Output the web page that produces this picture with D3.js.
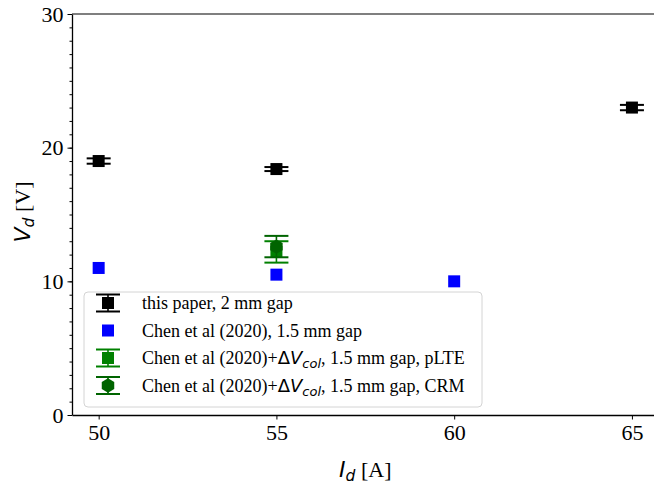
<!DOCTYPE html>
<html>
<head>
<meta charset="utf-8">
<script src="https://cdn.jsdelivr.net/npm/d3@7/dist/d3.min.js"></script>
<style>
  body { margin: 0; background: #fff; }
  svg { display: block; }
  .tick text { font-family: "Liberation Serif", "Times New Roman", serif; font-size: 22px; fill: #000; }
</style>
</head>
<body>
<svg id="graph" width="654" height="484"></svg>
<script>
(function() {
// values
const xTicks = [50, 55, 60, 65];
const yTicks = [0, 10, 20, 30];

const paperI = [50, 55, 65];
const paperV = [19.0, 18.4, 23.0];
const paperErr = [0.2, 0.15, 0.2];

const chenI = [50, 55, 60];
const chenV = [11.0, 10.5, 10.0];

const plteI = [55];
const plteV = [12.2];
const plteErr = [0.8];

const crmI = [55];
const crmV = [12.6];
const crmErr = [0.8];

const legendLabels = [
  'this paper, 2 mm gap',
  'Chen et al (2020), 1.5 mm gap',
  'Chen et al (2020)+', // pLTE (math part added below)
  'Chen et al (2020)+'  // CRM
];

const svg = d3.select('#graph');
const left = 72, top = 14, bottom = 415, right = 658.6;

const x = d3.scaleLinear().domain([49.25, 65.75]).range([left, right]);
const y = d3.scaleLinear().domain([0, 30]).range([bottom, top]);

// spines
svg.append('line')
  .attr('x1', left).attr('x2', 654).attr('y1', top).attr('y2', top)
  .attr('stroke', '#555').attr('stroke-width', 1.5);

// minor y ticks
svg.append('g')
  .attr('transform', `translate(${left},0)`)
  .call(d3.axisLeft(y).ticks(30).tickSize(2.5).tickFormat(''))
  .call(g => g.select('.domain').remove())
  .selectAll('line').attr('stroke', '#000').attr('stroke-width', 1);

const yAxis = svg.append('g')
  .attr('transform', `translate(${left},0)`)
  .call(d3.axisLeft(y).tickValues(yTicks).tickSize(4.5).tickPadding(4).tickSizeOuter(0));
yAxis.select('.domain').attr('stroke', '#000').attr('stroke-width', 1.3);
yAxis.selectAll('.tick line').attr('stroke', '#000').attr('stroke-width', 1);

const xAxis = svg.append('g')
  .attr('transform', `translate(0,${bottom})`)
  .call(d3.axisBottom(x).tickValues(xTicks).tickSize(4.5).tickPadding(5).tickSizeOuter(0));
xAxis.select('.domain').attr('stroke', '#000').attr('stroke-width', 1.3);
xAxis.selectAll('.tick line').attr('stroke', '#000').attr('stroke-width', 1);

// axis labels
const mathFont = '"DejaVu Sans", sans-serif';
const serif = '"Liberation Serif", "Times New Roman", serif';

const yl = svg.append('text')
  .attr('transform', 'translate(30,212) rotate(-90)')
  .attr('text-anchor', 'middle')
  .attr('font-size', 22);
yl.append('tspan').attr('font-family', mathFont).attr('font-style', 'italic').text('V');
yl.append('tspan').attr('font-family', mathFont).attr('font-style', 'italic')
  .attr('font-size', 15.5).attr('dy', 4).text('d');
yl.append('tspan').attr('font-family', serif).attr('dy', -4).text(' [V]');

const xl = svg.append('text')
  .attr('x', (left + right) / 2).attr('y', 477)
  .attr('text-anchor', 'middle')
  .attr('font-size', 22);
xl.append('tspan').attr('font-family', mathFont).attr('font-style', 'italic').text('I');
xl.append('tspan').attr('font-family', mathFont).attr('font-style', 'italic')
  .attr('font-size', 15.5).attr('dy', 4).text('d');
xl.append('tspan').attr('font-family', serif).attr('dy', -4).text(' [A]');

// helpers
function errorBars(g, cx, cy, lo, hi, color) {
  g.append('line').attr('x1', cx).attr('x2', cx).attr('y1', lo).attr('y2', hi)
    .attr('stroke', color).attr('stroke-width', 1.6);
  [lo, hi].forEach(v => {
    g.append('line').attr('x1', cx - 12).attr('x2', cx + 12).attr('y1', v).attr('y2', v)
      .attr('stroke', color).attr('stroke-width', 2);
  });
}
function square(g, cx, cy, color) {
  g.append('rect').attr('x', cx - 6).attr('y', cy - 6).attr('width', 12).attr('height', 12)
    .attr('fill', color);
}
function hexagon(g, cx, cy, color) {
  const r = 7.2;
  const pts = d3.range(6).map(k => {
    const a = Math.PI / 2 + k * Math.PI / 3;
    return [cx + r * Math.cos(a), cy - r * Math.sin(a)];
  });
  g.append('polygon').attr('points', pts.map(p => p.join(',')).join(' ')).attr('fill', color);
}

const marks = svg.append('g');

// this paper
paperI.forEach((d, i) => {
  errorBars(marks, x(d), y(paperV[i]), y(paperV[i] - paperErr[i]), y(paperV[i] + paperErr[i]), '#000');
  square(marks, x(d), y(paperV[i]), '#000');
});
// Chen
chenI.forEach((d, i) => square(marks, x(d), y(chenV[i]), '#0000ff'));
// pLTE
plteI.forEach((d, i) => {
  errorBars(marks, x(d), y(plteV[i]), y(plteV[i] - plteErr[i]), y(plteV[i] + plteErr[i]), '#008000');
  square(marks, x(d), y(plteV[i]), '#008000');
});
// CRM
crmI.forEach((d, i) => {
  errorBars(marks, x(d), y(crmV[i]), y(crmV[i] - crmErr[i]), y(crmV[i] + crmErr[i]), '#006400');
  hexagon(marks, x(d), y(crmV[i]), '#006400');
});

// legend
const lg = svg.append('g');
lg.append('rect')
  .attr('x', 84).attr('y', 292).attr('width', 398).attr('height', 115)
  .attr('rx', 4).attr('fill', 'rgba(255,255,255,0.85)')
  .attr('stroke', '#d4d4d4').attr('stroke-width', 1);

const rowY = [303, 330.5, 358, 385.5];
const colors = ['#000', '#0000ff', '#008000', '#006400'];
rowY.forEach((ry, i) => {
  const hx = 108;
  if (i !== 1) {
    errorBars(lg, hx, ry, ry + 8.5, ry - 8.5, colors[i]);
  }
  if (i === 3) hexagon(lg, hx, ry, colors[i]);
  else square(lg, hx, ry, colors[i]);

  const t = lg.append('text')
    .attr('x', 142).attr('y', ry + 6)
    .attr('font-family', serif).attr('font-size', 18).attr('fill', '#000');
  t.append('tspan').text(legendLabels[i]);
  if (i >= 2) {
    t.append('tspan').attr('font-family', mathFont).attr('font-style', 'normal').text('Δ');
    t.append('tspan').attr('font-family', mathFont).attr('font-style', 'italic').text('V');
    t.append('tspan').attr('font-family', mathFont).attr('font-style', 'italic')
      .attr('font-size', 13).attr('dy', 4).text('col');
    t.append('tspan').attr('dy', -4).text(i === 2 ? ', 1.5 mm gap, pLTE' : ', 1.5 mm gap, CRM');
  }
});
})();
</script>
</body>
</html>
